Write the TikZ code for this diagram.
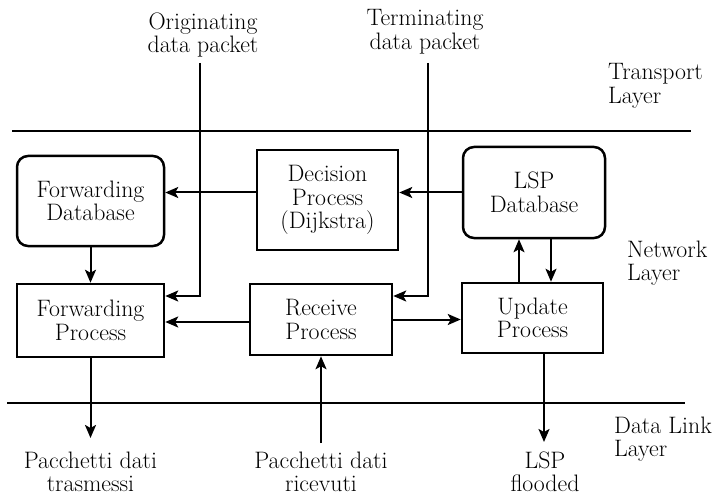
\documentclass[tikz,border=0pt]{standalone}
\usetikzlibrary{arrows.meta}
\tikzset{
  box/.style={draw, line width=2.5pt, align=center, inner sep=2pt},
  rbox/.style={box, rounded corners=11pt},
  arr/.style={line width=2pt, -{Stealth[length=13pt,width=11pt,inset=3pt]}},
  layerline/.style={line width=2.8pt},
  lbl/.style={align=center, inner sep=0pt},
  llbl/.style={align=left, inner sep=0pt, anchor=west},
}
\begin{document}
\begin{tikzpicture}[x=1pt, y=-1pt, font=\fontsize{23.8}{23.5}\selectfont]
\useasboundingbox (0,0) rectangle (712,497);

% layer lines
\coordinate (t1) at (12,131);
\coordinate (t2) at (691,131);
\coordinate (b1) at (7,403);
\coordinate (b2) at (685,403);
\draw[layerline] (t1) -- (t2);
\draw[layerline] (b1) -- (b2);

% boxes
\node[rbox, minimum width=147pt, minimum height=90pt] (fdb) at (90.5,201) {Forwarding\\Database};
\node[box, minimum width=141pt, minimum height=100pt] (dec) at (327.5,200) {Decision\\Process\\(Dijkstra)};
\node[rbox, minimum width=142pt, minimum height=91pt] (lsp) at (534,192.5) {LSP\\Database};
\node[box, minimum width=147pt, minimum height=73pt] (fp) at (90.5,320.5) {Forwarding\\Process};
\node[box, minimum width=142pt, minimum height=71pt] (rp) at (321,319.5) {Receive\\Process};
\node[box, minimum width=141pt, minimum height=70pt] (up) at (532.5,318) {Update\\Process};

% labels
\node[lbl] (orig) at (203,35) {Originating\\data packet};
\node[lbl] (term) at (425,31.5) {Terminating\\data packet};
\node[llbl] (tl) at (608,86) {Transport\\Layer};
\node[llbl] (nl) at (627,263) {Network\\Layer};
\node[llbl] (dl) at (614,439) {Data Link\\Layer};
\node[lbl] (ptx) at (90.5,472) {Pacchetti dati\\trasmessi};
\node[lbl] (prx) at (321,472) {Pacchetti dati\\ricevuti};
\node[lbl] (lf) at (545,472) {LSP\\flooded};

% connector ends
\coordinate (os) at (200,63);
\coordinate (ts) at (428,63);
\coordinate (ftx) at (90.5,438);
\coordinate (rrx) at (321,443);
\coordinate (lfx) at (544,442);

% connectors
\draw[arr] (lsp.west) -- (dec.east |- lsp.west);
\draw[arr] (dec.west |- lsp.west) -- (fdb.east |- lsp.west);
\draw[arr] (fdb) -- (fp);
\draw[arr] (os) |- ([yshift=24.5pt]fp.east);
\draw[arr] (ts) |- ([yshift=23.5pt]rp.east);
\draw[arr] ([yshift=-2.5pt]rp.west) -- ([yshift=-2.5pt]fp.east |- rp.west);
\draw[arr] (rp.east) -- (up.west |- rp.east);
\draw[arr] ([xshift=-13.5pt]up.north) -- ([xshift=-13.5pt]up.north |- lsp.south);
\draw[arr] ([xshift=17pt]lsp.south) -- ([xshift=17pt]lsp.south |- up.north);
\draw[arr] (fp.south) -- (ftx);
\draw[arr] (rrx) -- (rp.south);
\draw[arr] (lfx |- up.south) -- (lfx);
\end{tikzpicture}
\end{document}
